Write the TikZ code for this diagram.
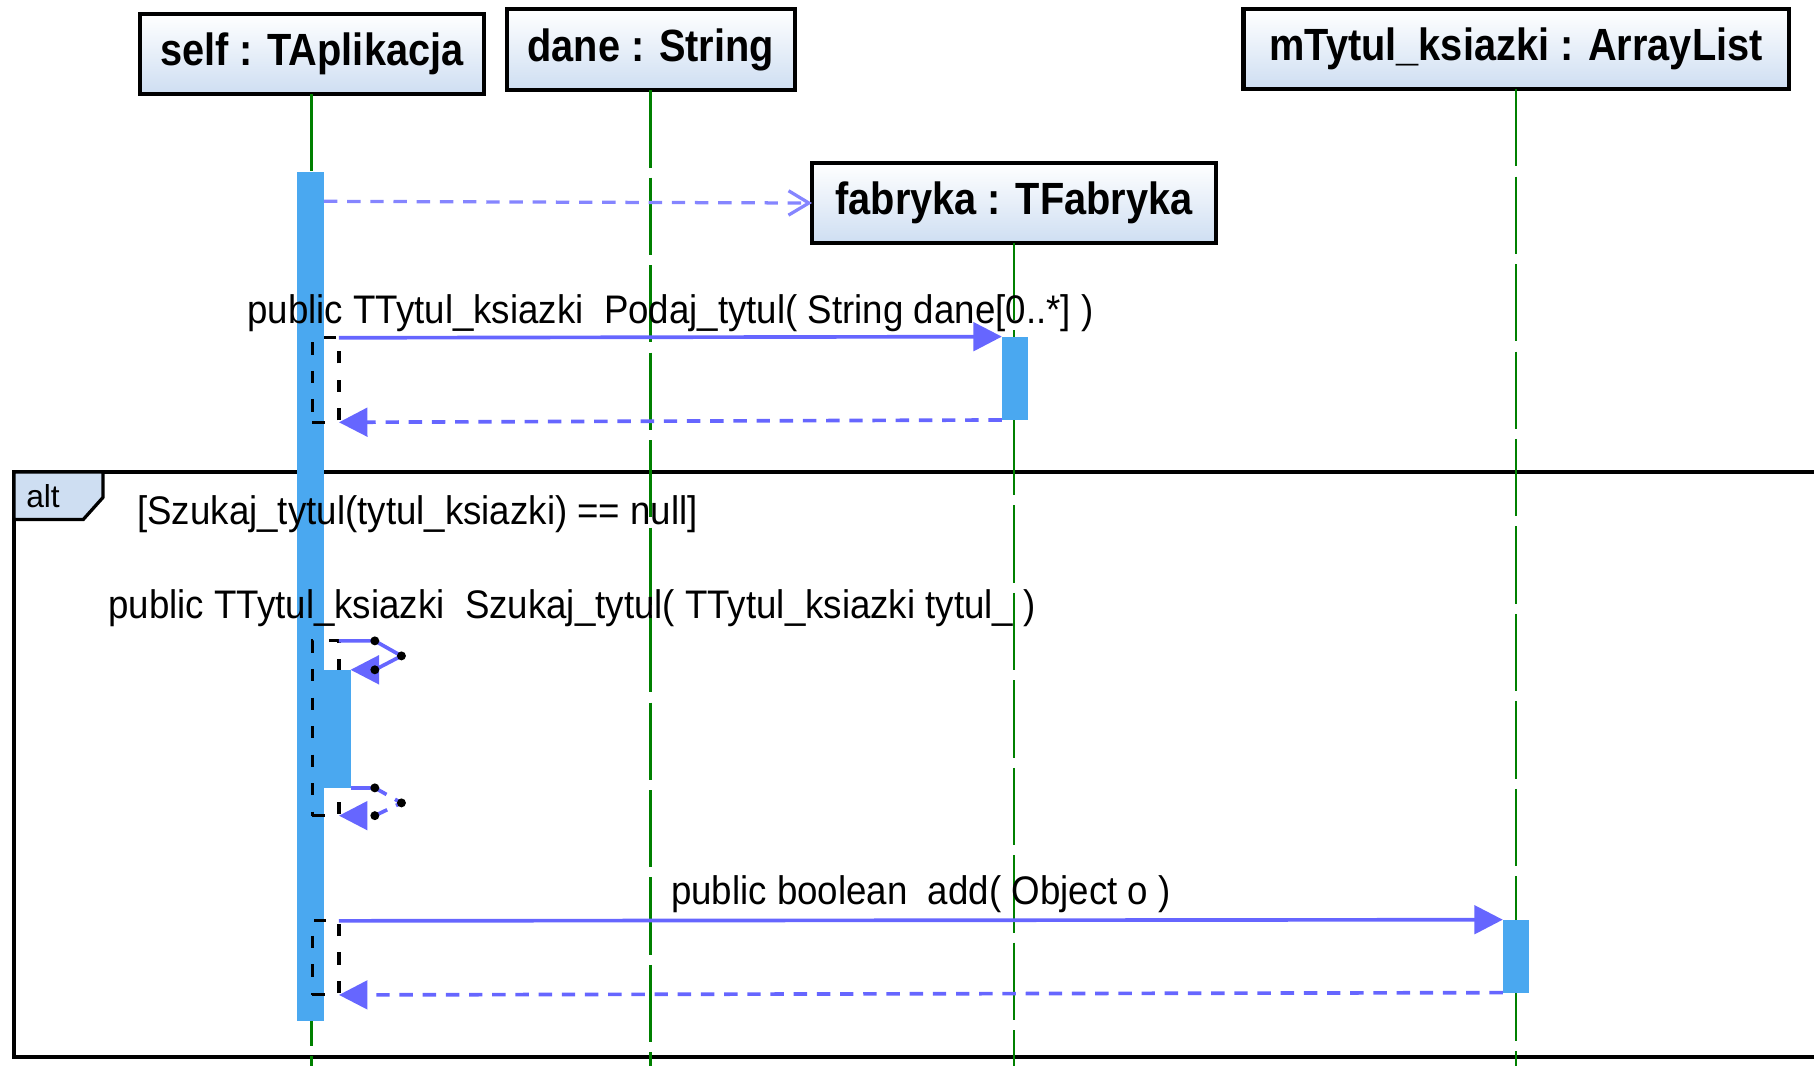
\documentclass[tikz,border=0pt]{standalone}
\usepackage{fontspec}
\setmainfont{Liberation Sans}
\usetikzlibrary{arrows.meta,positioning}

\definecolor{actblue}{RGB}{74,168,240}
\definecolor{msgblue}{RGB}{102,102,255}
\definecolor{lifegreen}{RGB}{0,128,0}
\definecolor{headblue}{RGB}{206,222,242}

\newcommand{\hdr}[1]{\scalebox{0.88}[1]{\bfseries #1}}
\newcommand{\msg}[1]{\scalebox{0.92}[1]{#1}}

\tikzset{
  obj/.style={draw, line width=1pt, top color=white, bottom color=headblue,
    inner sep=0pt, outer sep=0pt, font=\fontsize{11.1}{13}\selectfont},
  act/.style={fill=actblue, draw=none, inner sep=0pt, outer sep=0pt, minimum width=0.23cm},
  frag/.style={draw, line width=0.75pt, dash pattern=on 3pt off 4pt,
    inner sep=0pt, outer sep=0pt, minimum width=0.23cm},
  life/.style={lifegreen, line width=0.65pt, dash pattern=on 19pt off 2.5pt},
  call/.style={msgblue, line width=0.9pt, -{Triangle[length=7pt,width=7pt]}},
  reply/.style={call, dash pattern=on 3.3pt off 2.4pt},
  create/.style={msgblue!80, line width=0.8pt, dash pattern=on 3.3pt off 2.4pt,
    -{Straight Barb[length=5pt,width=6pt]}},
  lbl/.style={anchor=base, inner sep=0pt, text=black, font=\fontsize{9.8}{12}\selectfont},
}

\begin{document}
\begin{tikzpicture}[x=0.01cm, y=-0.01cm]

  \clip (0,0) rectangle (1568,921);
  \coordinate (end) at (0,930);

  % alt fragment
  \draw[line width=1pt] (1600,408) -- (12,408) -- (12,914) -- (1600,914);
  \draw[line width=0.8pt, fill=headblue] (12,408) -- (89,408) -- (89,430) -- (72,449) -- (12,449) -- cycle;
  \node[anchor=base west, inner sep=0pt, font=\fontsize{7.8}{9}\selectfont] (alt) at (22,439) {alt};

  % Objects
  \node[obj, minimum width=2.97cm, minimum height=0.69cm] (self) at (269.5,46.5) {\hdr{self : TAplikacja}};
  \node[obj, minimum width=2.49cm, minimum height=0.70cm] (dane) at (562.5,43) {\hdr{dane : String}};
  \node[obj, minimum width=4.71cm, minimum height=0.69cm] (lista) at (1310.5,42.5) {\hdr{mTytul\_ksiazki : ArrayList}};
  \node[obj, minimum width=3.49cm, minimum height=0.69cm] (fabryka) at (876.5,175.5) {\hdr{fabryka : TFabryka}};

  % Lifelines
  \foreach \o in {self,dane,lista,fabryka}
    \draw[life] (\o.south) -- (\o.south |- end);

  % Activations
  \node[act, minimum height=7.33cm] (barSelf) at (268.5,515.5) {};
  \node[act, minimum height=0.72cm] (barFab) at (877.5,327) {};
  \node[act, minimum height=0.63cm] (barList) at (1310.5,826.5) {};

  \node[frag, minimum height=0.73cm] (fragA) at (281.5,328.5) {};
  \node[frag, minimum height=1.51cm] (fragB) at (281.5,629.5) {};
  \node[frag, minimum height=0.64cm] (fragC) at (281.5,828) {};
  \node[act, minimum height=1.02cm] (barNest) at (291.5,630) {};

  \node[lbl, anchor=base west] (guard) at (118,453) {\msg{[Szukaj\_tytul(tytul\_ksiazki) == null]}};

  % Create fabryka
  \coordinate (c0) at (280,174);
  \draw[create] (c0) -- (fabryka.west);

  % Podaj_tytul
  \draw[call] (fragA.north east) -- node[lbl, yshift=0.12cm] (lblPodaj)
    {\msg{public TTytul\_ksiazki\ \ Podaj\_tytul( String dane[0..*] )}} (barFab.north west);
  \draw[reply] (barFab.south west) -- (fragA.south east);

  % Szukaj_tytul on self
  \node[lbl] (lblSzukaj) at (494.5,535) {\msg{public TTytul\_ksiazki\ \ Szukaj\_tytul( TTytul\_ksiazki tytul\_ )}};
  \draw[call] (fragB.north east) -- ++(31,0) coordinate (d1) -- ++(23,13) coordinate (d2)
    -- (d1 |- barNest.north) coordinate (d3) -- (barNest.north east);
  \draw[msgblue, line width=0.9pt] (barNest.south east) -- ++(21,0) coordinate (d4);
  \draw[reply] (d4) -- ++(23,13) coordinate (d5) -- (d4 |- fragB.south) coordinate (d6)
    -- (fragB.south east);
  \foreach \d in {d1,d2,d3,d4,d5,d6}
    \fill (\d) circle (1.1pt);

  % add
  \draw[call] (fragC.north east) -- node[lbl, yshift=0.14cm] (lblAdd)
    {\msg{public boolean\ \ add( Object o )}} (barList.north west);
  \draw[reply] (barList.south west) -- (fragC.south east);

\end{tikzpicture}
\end{document}
